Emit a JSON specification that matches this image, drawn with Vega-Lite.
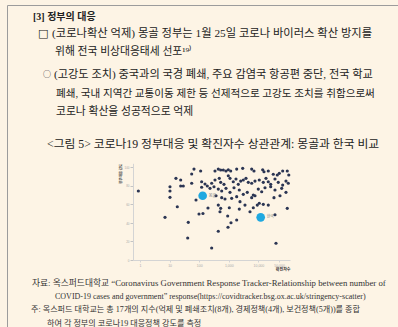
{
  "$schema": "https://vega.github.io/schema/vega-lite/v6.json",
  "width": 392,
  "height": 323,
  "autosize": {"type": "none"},
  "padding": {"left": 7, "top": 5, "right": 0, "bottom": 0},
  "background": "#fdf4e5",
  "config": {
    "view": {"fill": "white", "stroke": "#9c9c9c", "strokeWidth": 1},
    "text": {"font": "Liberation Serif, Noto Sans CJK KR", "baseline": "middle", "align": "left", "color": "#222"}
  },
  "layer": [
    {
      "data": {"values": [
        {"c": 0.88, "s": 74.2}, {"c": 10.3, "s": 78.8}, {"c": 10.3, "s": 74.2}, {"c": 10.3, "s": 67.4},
        {"c": 16.4, "s": 87.8}, {"c": 23.7, "s": 86.0}, {"c": 23.7, "s": 79.6}, {"c": 29.0, "s": 79.6},
        {"c": 18.2, "s": 57.3}, {"c": 55.8, "s": 92.5}, {"c": 66.7, "s": 97.8}, {"c": 55.8, "s": 82.5},
        {"c": 112, "s": 95.7}, {"c": 121, "s": 84.2}, {"c": 121, "s": 78.2}, {"c": 157, "s": 81.7},
        {"c": 188, "s": 79.6}, {"c": 78, "s": 64.5}, {"c": 198, "s": 55.9}, {"c": 98.5, "s": 49.5},
        {"c": 134, "s": 50.0}, {"c": 7.0, "s": 45.9}, {"c": 42.8, "s": 40.5}, {"c": 40.9, "s": 23.7},
        {"c": 264, "s": 12.9}, {"c": 504, "s": 51.9}, {"c": 918, "s": 47.3}, {"c": 1187, "s": 40.1},
        {"c": 1849, "s": 43.0}, {"c": 940, "s": 35.2}, {"c": 442, "s": 30.9}, {"c": 36370, "s": 48.7},
        {"c": 39330, "s": 18.0},
        {"c": 342, "s": 95.7}, {"c": 442, "s": 97.8}, {"c": 532, "s": 96.8}, {"c": 652, "s": 96.8},
        {"c": 804, "s": 95.7}, {"c": 962, "s": 97.1}, {"c": 1159, "s": 95.7}, {"c": 1849, "s": 97.8},
        {"c": 2949, "s": 98.6}, {"c": 5937, "s": 97.8}, {"c": 7100, "s": 95.7}, {"c": 13970, "s": 97.1},
        {"c": 15450, "s": 94.9}, {"c": 21600, "s": 95.7}, {"c": 31870, "s": 92.2}, {"c": 43530, "s": 91.4},
        {"c": 50820, "s": 93.2}, {"c": 66220, "s": 95.7}, {"c": 94650, "s": 95.7}, {"c": 106400, "s": 91.4},
        {"c": 264, "s": 82.5}, {"c": 342, "s": 86.0}, {"c": 478, "s": 87.8}, {"c": 532, "s": 83.5},
        {"c": 688, "s": 81.4}, {"c": 962, "s": 90.6}, {"c": 1098, "s": 87.8}, {"c": 1419, "s": 84.2},
        {"c": 1752, "s": 87.1}, {"c": 2094, "s": 81.4}, {"c": 2523, "s": 84.9}, {"c": 3091, "s": 86.0},
        {"c": 3811, "s": 87.8}, {"c": 4560, "s": 83.5}, {"c": 5937, "s": 82.5}, {"c": 7676, "s": 84.9},
        {"c": 10720, "s": 86.0}, {"c": 14640, "s": 83.5}, {"c": 18060, "s": 87.8}, {"c": 21600, "s": 84.2},
        {"c": 26050, "s": 81.4}, {"c": 36370, "s": 87.1}, {"c": 46990, "s": 83.5}, {"c": 66220, "s": 80.6},
        {"c": 85550, "s": 84.9}, {"c": 102400, "s": 82.5},
        {"c": 232, "s": 77.1}, {"c": 316, "s": 78.8}, {"c": 442, "s": 76.3}, {"c": 576, "s": 74.2},
        {"c": 804, "s": 77.1}, {"c": 1098, "s": 72.8}, {"c": 1499, "s": 77.7}, {"c": 2264, "s": 75.3},
        {"c": 3091, "s": 70.6}, {"c": 4217, "s": 72.8}, {"c": 6729, "s": 69.9}, {"c": 9931, "s": 76.3},
        {"c": 12920, "s": 73.4}, {"c": 16710, "s": 77.7}, {"c": 26050, "s": 78.8}, {"c": 36370, "s": 75.3},
        {"c": 61240, "s": 77.1}, {"c": 85550, "s": 72.8},
        {"c": 370, "s": 69.1}, {"c": 576, "s": 67.0}, {"c": 744, "s": 65.6}, {"c": 1252, "s": 66.3},
        {"c": 1849, "s": 68.1}, {"c": 2390, "s": 62.7}, {"c": 3524, "s": 59.1}, {"c": 5937, "s": 67.0},
        {"c": 7676, "s": 69.1}, {"c": 10720, "s": 61.0}, {"c": 14640, "s": 59.9}, {"c": 21600, "s": 59.1},
        {"c": 33630, "s": 67.0}, {"c": 53690, "s": 69.1},
        {"c": 442, "s": 59.1}, {"c": 532, "s": 55.6}, {"c": 1040, "s": 56.2}, {"c": 2264, "s": 54.8},
        {"c": 5203, "s": 51.9}, {"c": 6729, "s": 56.2}, {"c": 9183, "s": 59.1}, {"c": 94650, "s": 55.6}
      ]},
      "mark": {"type": "point", "filled": true, "size": 10, "opacity": 1, "color": "#2b3553"},
      "encoding": {
        "x": {"field": "c", "type": "quantitative",
          "scale": {"type": "log", "domain": [0.58, 117000], "range": [126, 283], "nice": false},
          "axis": {"orient": "bottom", "offset": -68, "values": [1, 10, 100, 1000, 10000, 50000], "format": ",",
            "grid": false, "domainColor": "#d4d4d4", "tickColor": "#d4d4d4", "tickSize": 2,
            "labelFontSize": 3.5, "labelColor": "#aaaaaa", "labelPadding": 1,
            "title": "확진자수", "titleFontSize": 4, "titleColor": "#333", "titleAnchor": "end", "titlePadding": 1, "titleFont": "Noto Sans CJK KR"}},
        "y": {"field": "s", "type": "quantitative",
          "scale": {"domain": [0, 104], "range": [255, 158.3], "nice": false, "zero": false},
          "axis": {"orient": "left", "offset": -126, "values": [0, 10, 20, 30, 40, 50, 60, 70, 80, 90, 100],
            "grid": false, "domainColor": "#d4d4d4", "tickColor": "#c4c4c4", "tickSize": 3,
            "labelFontSize": 3, "labelColor": "#aaaaaa", "labelPadding": 1,
            "title": "정부대응 강도", "titleFontSize": 3.5, "titleColor": "#444", "titleAnchor": "end", "titlePadding": 1, "titleFont": "Noto Sans CJK KR"}}
      }
    },
    {
      "data": {"values": [{"c": 131, "s": 69.1, "n": "몽골"}, {"c": 11960, "s": 45.9, "n": "한국"}]},
      "layer": [
        {"mark": {"type": "point", "filled": true, "size": 75, "opacity": 1, "color": "#1fa8e0"},
         "encoding": {"x": {"field": "c", "type": "quantitative"}, "y": {"field": "s", "type": "quantitative"}}},
        {"mark": {"type": "text", "dx": 6, "fontSize": 4, "color": "#777", "font": "Noto Sans CJK KR"},
         "encoding": {"x": {"field": "c", "type": "quantitative"}, "y": {"field": "s", "type": "quantitative"}, "text": {"field": "n"}}}
      ]
    },
    {"data": {"values": [{"t": "[3] 정부의 대응"}]}, "mark": {"type": "text", "x": 26, "y": 11.5, "fontSize": 10, "fontWeight": "bold"}, "encoding": {"text": {"field": "t"}}},
    {"data": {"values": [{"t": "□"}]}, "mark": {"type": "text", "x": 31, "y": 29, "fontSize": 11, "fontWeight": "bold", "font": "DejaVu Sans", "color": "#111"}, "encoding": {"text": {"field": "t"}}},
    {"data": {"values": [{"t": "(코로나확산 억제) 몽골 정부는 1월 25일 코로나 바이러스 확산 방지를"}]}, "mark": {"type": "text", "x": 45, "y": 29, "fontSize": 11.3}, "encoding": {"text": {"field": "t"}}},
    {"data": {"values": [{"t": "위해 전국 비상대응태세 선포¹⁹⁾"}]}, "mark": {"type": "text", "x": 48, "y": 47, "fontSize": 10.8}, "encoding": {"text": {"field": "t"}}},
    {"data": {"values": [{"t": "○"}]}, "mark": {"type": "text", "x": 36, "y": 70, "fontSize": 8, "font": "Noto Sans CJK KR"}, "encoding": {"text": {"field": "t"}}},
    {"data": {"values": [{"t": "(고강도 조치) 중국과의 국경 폐쇄, 주요 감염국 항공편 중단, 전국 학교"}]}, "mark": {"type": "text", "x": 47, "y": 70, "fontSize": 11.2}, "encoding": {"text": {"field": "t"}}},
    {"data": {"values": [{"t": "폐쇄, 국내 지역간 교통이동 제한 등 선제적으로 고강도 조치를 취함으로써"}]}, "mark": {"type": "text", "x": 49, "y": 88.5, "fontSize": 10.6}, "encoding": {"text": {"field": "t"}}},
    {"data": {"values": [{"t": "코로나 확산을 성공적으로 억제"}]}, "mark": {"type": "text", "x": 49, "y": 107, "fontSize": 10.8}, "encoding": {"text": {"field": "t"}}},
    {"data": {"values": [{"t": "<그림 5> 코로나19 정부대응 및 확진자수 상관관계: 몽골과 한국 비교"}]}, "mark": {"type": "text", "x": 40, "y": 138.5, "fontSize": 11.8}, "encoding": {"text": {"field": "t"}}},
    {"data": {"values": [{"t": "자료: 옥스퍼드대학교 “Coronavirus Government Response Tracker-Relationship between number of"}]}, "mark": {"type": "text", "x": 25, "y": 278, "fontSize": 8.75, "color": "#333"}, "encoding": {"text": {"field": "t"}}},
    {"data": {"values": [{"t": "COVID-19 cases and government” response(https://covidtracker.bsg.ox.ac.uk/stringency-scatter)"}]}, "mark": {"type": "text", "x": 48, "y": 291.5, "fontSize": 8, "color": "#333"}, "encoding": {"text": {"field": "t"}}},
    {"data": {"values": [{"t": "주: 옥스퍼드 대학교는 총 17개의 지수(억제 및 폐쇄조치(8개), 경제정책(4개), 보건정책(5개))를 종합"}]}, "mark": {"type": "text", "x": 24, "y": 305, "fontSize": 8.1, "color": "#333"}, "encoding": {"text": {"field": "t"}}},
    {"data": {"values": [{"t": "하여 각 정부의 코로나19 대응정책 강도를 측정"}]}, "mark": {"type": "text", "x": 40, "y": 318.5, "fontSize": 8.1, "color": "#333"}, "encoding": {"text": {"field": "t"}}}
  ]
}
